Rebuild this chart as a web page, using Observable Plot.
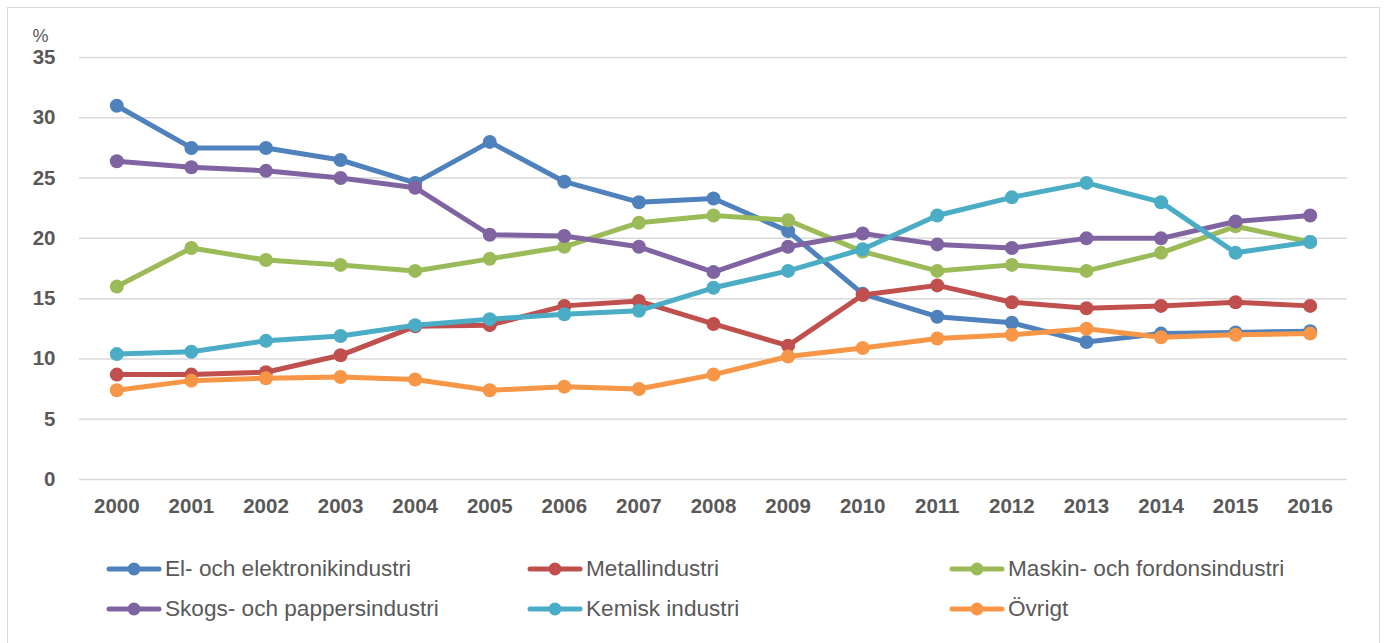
<!DOCTYPE html>
<html>
<head>
<meta charset="utf-8">
<script src="https://cdn.jsdelivr.net/npm/d3@7"></script>
<script src="https://cdn.jsdelivr.net/npm/@observablehq/plot@0.6"></script>
<style>
  html, body { margin: 0; padding: 0; background: #fff; }
  #wrap { position: relative; width: 1384px; height: 643px; overflow: hidden; }
  #frame { position: absolute; left: 7px; top: 7px; width: 1373px; height: 660px; border: 1.5px solid #d9d9d9; box-sizing: border-box; }
  #chart { position: absolute; left: 0; top: 0; }
  .leg { position: absolute; display: flex; align-items: center; font-family: "Liberation Sans", Arial, sans-serif; font-size: 22.6px; color: #595959; white-space: nowrap; }
  .leg svg { margin-right: 3px; }
</style>
</head>
<body>
<div id="wrap">
  <div id="frame"></div>
  <div id="chart"></div>
</div>
<script>
const years = [2000, 2001, 2002, 2003, 2004, 2005, 2006, 2007, 2008, 2009, 2010, 2011, 2012, 2013, 2014, 2015, 2016];
const seriesNames = ["El- och elektronikindustri", "Metallindustri", "Maskin- och fordonsindustri", "Skogs- och pappersindustri", "Kemisk industri", "Övrigt"];
const seriesColors = ["#4f81bd", "#c0504d", "#9bbb59", "#8064a2", "#4bacc6", "#f79646"];
const elValues      = [31.0, 27.5, 27.5, 26.5, 24.6, 28.0, 24.7, 23.0, 23.3, 20.6, 15.4, 13.5, 13.0, 11.4, 12.1, 12.2, 12.3];
const metallValues  = [8.7, 8.7, 8.9, 10.3, 12.7, 12.8, 14.4, 14.8, 12.9, 11.1, 15.3, 16.1, 14.7, 14.2, 14.4, 14.7, 14.4];
const maskinValues  = [16.0, 19.2, 18.2, 17.8, 17.3, 18.3, 19.3, 21.3, 21.9, 21.5, 18.9, 17.3, 17.8, 17.3, 18.8, 21.0, 19.7];
const skogsValues   = [26.4, 25.9, 25.6, 25.0, 24.2, 20.3, 20.2, 19.3, 17.2, 19.3, 20.4, 19.5, 19.2, 20.0, 20.0, 21.4, 21.9];
const kemiskValues  = [10.4, 10.6, 11.5, 11.9, 12.8, 13.3, 13.7, 14.0, 15.9, 17.3, 19.1, 21.9, 23.4, 24.6, 23.0, 18.8, 19.7];
const ovrigtValues  = [7.4, 8.2, 8.4, 8.5, 8.3, 7.4, 7.7, 7.5, 8.7, 10.2, 10.9, 11.7, 12.0, 12.5, 11.8, 12.0, 12.1];
const yTicks = [0, 5, 10, 15, 20, 25, 30, 35];

const allValues = [elValues, metallValues, maskinValues, skogsValues, kemiskValues, ovrigtValues];
const seriesData = allValues.map((vals, i) => years.map((yr, j) => ({year: yr, value: vals[j], series: seriesNames[i]})));

const marks = [
  Plot.ruleY(yTicks, {stroke: "#d9d9d9", strokeWidth: 1.5}),
  Plot.axisY({ticks: yTicks, tickSize: 0, tickPadding: 24, label: null, fontWeight: "bold", fontSize: 20.5}),
  Plot.axisX({ticks: years, tickFormat: d => String(d), tickSize: 0, tickPadding: 19, label: null, fontWeight: "bold", fontSize: 20.5}),
  Plot.text(["%"], {frameAnchor: "top-left", textAnchor: "middle", dx: -39, dy: -28, fontSize: 18, fill: "#595959"})
];
seriesData.forEach((d, i) => {
  marks.push(Plot.line(d, {x: "year", y: "value", stroke: seriesColors[i], strokeWidth: 5, strokeLinejoin: "round", strokeLinecap: "round"}));
  marks.push(Plot.dot(d, {x: "year", y: "value", fill: seriesColors[i], r: 7}));
});

const chart = Plot.plot({
  width: 1384,
  height: 530,
  marginLeft: 79,
  marginRight: 37,
  marginTop: 57,
  marginBottom: 51,
  x: {domain: [1999.5, 2016.5]},
  y: {domain: [0, 35]},
  style: {fontFamily: "'Liberation Sans', Arial, sans-serif", color: "#595959", background: "transparent", overflow: "visible"},
  marks
});
document.getElementById("chart").appendChild(chart);

// legend
const legLeft = [106, 527, 949];
const legTop = [569, 609];
const wrap = document.getElementById("wrap");
seriesNames.forEach((name, i) => {
  const div = document.createElement("div");
  div.className = "leg";
  div.style.left = legLeft[i % 3] + "px";
  div.style.top = (legTop[Math.floor(i / 3)] - 14) + "px";
  div.style.height = "28px";
  const c = seriesColors[i];
  div.innerHTML = `<svg width="56" height="20"><line x1="3" y1="10" x2="53" y2="10" stroke="${c}" stroke-width="5" stroke-linecap="round"/><circle cx="28" cy="10" r="6.5" fill="${c}"/></svg><span></span>`;
  div.querySelector("span").textContent = name;
  wrap.appendChild(div);
});
</script>
</body>
</html>
